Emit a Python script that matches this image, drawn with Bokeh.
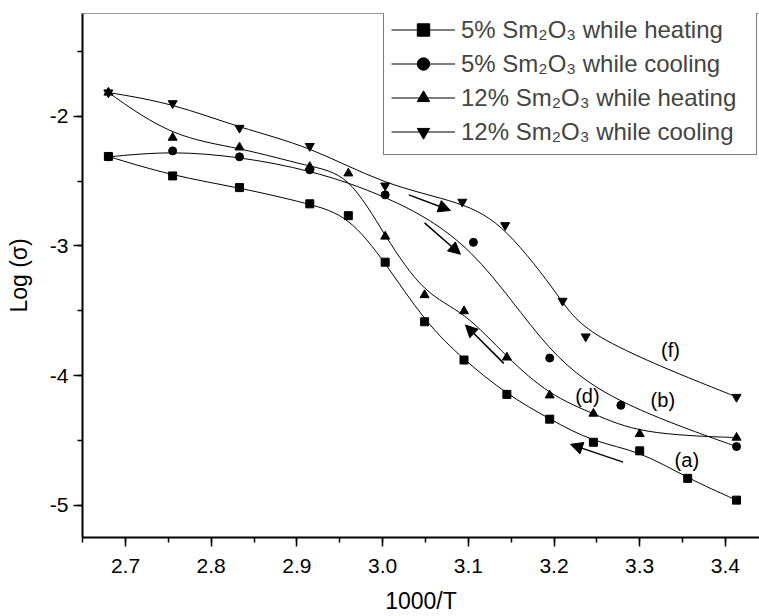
import numpy as np
from bokeh.plotting import figure
from bokeh.models import (LinearAxis, SingleIntervalTicker, FixedTicker, NumeralTickFormatter,
                          Legend, LegendItem, Arrow, NormalHead, ColumnDataSource, Range1d)
from bokeh.core.properties import value
from bokeh.embed import file_html
from bokeh.resources import INLINE

# ---------------- data ----------------
# (a) 5% Sm2O3 while heating
X_5H = [2.68, 2.755, 2.833, 2.915, 2.96, 3.003, 3.049, 3.095, 3.145, 3.195, 3.246, 3.30, 3.356, 3.413]
Y_5H = [-2.31, -2.46, -2.55, -2.675, -2.766, -3.125, -3.584, -3.879, -4.144, -4.335, -4.513, -4.579, -4.791, -4.959]
# (b) 5% Sm2O3 while cooling
X_5C = [2.68, 2.755, 2.833, 2.915, 3.003, 3.106, 3.195, 3.278, 3.413]
Y_5C = [-2.313, -2.267, -2.313, -2.413, -2.606, -2.972, -3.864, -4.228, -4.546]
# (d) 12% Sm2O3 while heating
X_12H = [2.68, 2.755, 2.833, 2.915, 2.96, 3.003, 3.049, 3.095, 3.145, 3.195, 3.246, 3.30, 3.413]
Y_12H = [-1.817, -2.165, -2.24, -2.39, -2.44, -2.927, -3.378, -3.502, -3.859, -4.151, -4.292, -4.449, -4.477]
# (f) 12% Sm2O3 while cooling
X_12C = [2.68, 2.755, 2.833, 2.915, 3.003, 3.093, 3.143, 3.21, 3.237, 3.413]
Y_12C = [-1.817, -1.90, -2.09, -2.23, -2.535, -2.66, -2.84, -3.423, -3.698, -4.164]

SERIES_LABELS = ["5% Sm\u2082O\u2083 while heating", "5% Sm\u2082O\u2083 while cooling",
                 "12% Sm\u2082O\u2083 while heating", "12% Sm\u2082O\u2083 while cooling"]

# curve annotations
CURVE_TAGS = ["(f)", "(d)", "(b)", "(a)"]
TAG_X = [3.336, 3.239, 3.327, 3.355]
TAG_Y = [-3.805, -4.159, -4.187, -4.646]

# direction arrows (tail -> head)
ARROW_X0 = [3.0306, 3.0489, 3.1414, 3.2807]
ARROW_Y0 = [-2.606, -2.822, -3.905, -4.666]
ARROW_X1 = [3.0792, 3.0909, 3.0967, 3.2193]
ARROW_Y1 = [-2.726, -3.064, -3.609, -4.529]

X_TITLE = "1000/T"
Y_TITLE = "Log (\u03c3)"

# ---------------- figure ----------------
FONT = "Liberation Sans"

p = figure(width=759, height=616,
           x_range=Range1d(2.6498, 3.4398), y_range=Range1d(-5.247, -1.208),
           output_backend="svg", toolbar_location=None,
           min_border_left=82, min_border_right=0, min_border_top=13, min_border_bottom=74,
           x_axis_label=X_TITLE, y_axis_label=Y_TITLE)
p.grid.visible = False
p.outline_line_color = None
p.background_fill_color = "white"
p.border_fill_color = "white"

for ax in (p.xaxis[0], p.yaxis[0]):
    ax.axis_line_width = 2
    ax.axis_line_color = "black"
    ax.major_tick_line_width = 1.5
    ax.minor_tick_line_width = 1.5
    ax.major_tick_line_color = "black"
    ax.minor_tick_line_color = "black"
    ax.major_tick_out = 9
    ax.major_tick_in = 0
    ax.minor_tick_out = 5
    ax.minor_tick_in = 0
    ax.major_label_text_font = FONT
    ax.major_label_text_font_size = "21px"
    ax.major_label_text_color = "black"
    ax.axis_label_text_font = FONT
    ax.axis_label_text_font_size = "23px"
    ax.axis_label_text_font_style = "normal"
    ax.axis_label_text_color = "black"

p.xaxis[0].ticker = SingleIntervalTicker(interval=0.1, num_minor_ticks=2)
p.xaxis[0].formatter = NumeralTickFormatter(format="0.0")
p.xaxis[0].major_label_standoff = 12
p.xaxis[0].axis_label_standoff = 12
p.yaxis[0].ticker = SingleIntervalTicker(interval=1, num_minor_ticks=2)
p.yaxis[0].formatter = NumeralTickFormatter(format="0")
p.yaxis[0].major_label_standoff = 5
p.yaxis[0].axis_label_standoff = 15

# thin gray top border
top = LinearAxis(ticker=FixedTicker(ticks=[]), axis_line_color="#9a9a9a", axis_line_width=1,
                 major_tick_out=0, major_tick_in=0, minor_tick_out=0, minor_tick_in=0,
                 major_label_text_font_size="0px", major_label_standoff=0)
p.add_layout(top, "above")


def bspline_segments(xs, ys):
    """B-spline line connection (as in the original software), expressed as cubic
    Bezier segments whose control polygon is the data points (ends clamped)."""
    x = np.asarray(xs, float)
    y = np.asarray(ys, float)
    cx = np.concatenate([[x[0]] * 2, x, [x[-1]] * 2])
    cy = np.concatenate([[y[0]] * 2, y, [y[-1]] * 2])
    a, b, c, d = (slice(k, len(cx) - 3 + k) for k in range(4))
    return dict(
        x0=(cx[a] + 4 * cx[b] + cx[c]) / 6.0, y0=(cy[a] + 4 * cy[b] + cy[c]) / 6.0,
        cx0=(2 * cx[b] + cx[c]) / 3.0, cy0=(2 * cy[b] + cy[c]) / 3.0,
        cx1=(cx[b] + 2 * cx[c]) / 3.0, cy1=(cy[b] + 2 * cy[c]) / 3.0,
        x1=(cx[b] + 4 * cx[c] + cx[d]) / 6.0, y1=(cy[b] + 4 * cy[c] + cy[d]) / 6.0,
    )


# ---------------- series ----------------
specs = [
    (X_5H, Y_5H, "square", 8),
    (X_5C, Y_5C, "circle", 8),
    (X_12H, Y_12H, "triangle", 9),
    (X_12C, Y_12C, "inverted_triangle", 9),
]
items = []
for (xs, ys, marker, size), label in zip(specs, SERIES_LABELS):
    seg = ColumnDataSource(bspline_segments(xs, ys))
    bz = p.bezier(x0="x0", y0="y0", x1="x1", y1="y1", cx0="cx0", cy0="cy0",
                  cx1="cx1", cy1="cy1", source=seg, line_color="black", line_width=1)
    src = ColumnDataSource(dict(x=xs, y=ys))
    sc = p.scatter("x", "y", source=src, marker=marker, size=size,
                   fill_color="black", line_color="black")
    items.append(LegendItem(label=label, renderers=[bz, sc]))

legend = Legend(items=items, location=(301, 382), margin=0,
                border_line_color="black", border_line_width=1,
                padding=7, spacing=3, glyph_width=64, glyph_height=31,
                label_height=31, label_standoff=6, label_width=288,
                label_text_font=FONT, label_text_font_size="24px",
                background_fill_color="white", background_fill_alpha=1)
p.add_layout(legend)

# curve tags
p.text(x=TAG_X, y=TAG_Y, text=CURVE_TAGS, text_font=value(FONT), text_font_size="20px",
       text_align="center", text_baseline="middle", text_color="black")

# arrows
asrc = ColumnDataSource(dict(x0=ARROW_X0, y0=ARROW_Y0, x1=ARROW_X1, y1=ARROW_Y1))
p.add_layout(Arrow(end=NormalHead(size=12, fill_color="black", line_color="black"),
                   x_start="x0", y_start="y0", x_end="x1", y_end="y1",
                   source=asrc, line_color="black", line_width=1.5))

open("out.html", "w").write(file_html(p, INLINE))
